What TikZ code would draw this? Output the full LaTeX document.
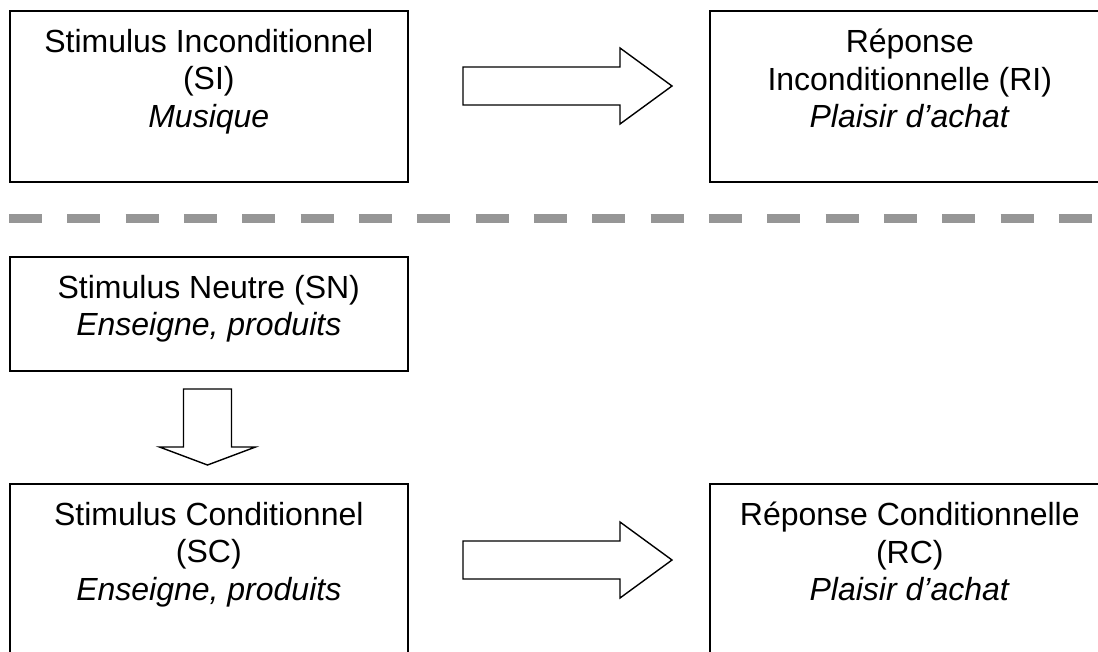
\documentclass[tikz,border=0pt]{standalone}
\usepackage{fontspec}
\setmainfont{Liberation Sans}
\usepackage{xcolor}
\usetikzlibrary{positioning,calc}
\definecolor{rulegray}{HTML}{969696}
\newcommand{\hollowright}[1]{%
  \draw[hollow] (#1) ++(0,-18.5) -- ++(157,0) -- ++(0,-19) -- ++(52,38)
    -- ++(-52,38) -- ++(0,-19) -- ++(-157,0) -- cycle;}
\tikzset{
  box/.style={rectangle, draw=black, fill=white, line width=1.6pt, anchor=north west, inner sep=0pt},
  boxtext/.style={align=center, inner sep=0pt, font=\fontsize{32}{37.5}\selectfont},
  hollow/.style={draw=black, fill=white, line width=1.4pt, line join=miter},
  divider/.style={draw=rulegray, line width=8.5pt, dash pattern=on 33pt off 25.33pt},
}

\begin{document}
\begin{tikzpicture}[x=1pt, y=-1pt]
\useasboundingbox (0,0) rectangle (1098,651);
\clip (0,0) rectangle (1098,651);
% unconditioned pair
\node[box, minimum width=398pt, minimum height=171pt] (si) at (9,10) {};
\node[box, minimum width=400pt, minimum height=171pt] (ri) at (709,10) {};
\node[boxtext, below=19pt of si.north] (sitext) {Stimulus Inconditionnel\\(SI)\\\textit{Musique}};
\node[boxtext, below=19pt of ri.north] (ritext) {Réponse\\Inconditionnelle (RI)\\\textit{Plaisir d’achat}};
\coordinate (arrtop) at (463,85.5);
\hollowright{arrtop}

\draw[divider] (9,218.5) -- (1098,218.5);

% neutral stimulus
\node[box, minimum width=398pt, minimum height=114pt] (sn) at (9,256) {};
\node[boxtext, below=19pt of sn.north] (sntext) {Stimulus Neutre (SN)\\\textit{Enseigne, produits}};
\coordinate (arrdown) at (207.5,389);
\draw[hollow] (arrdown) ++(-24,0) -- ++(48,0) -- ++(0,58) -- ++(24,0) -- ++(-48,18)
  -- ++(-48,-18) -- ++(24,0) -- cycle;

% conditioned pair
\node[box, minimum width=398pt, minimum height=190pt] (sc) at (9,483) {};
\node[box, minimum width=400pt, minimum height=190pt] (rc) at (709,483) {};
\node[boxtext, below=19pt of sc.north] (sctext) {Stimulus Conditionnel\\(SC)\\\textit{Enseigne, produits}};
\node[boxtext, below=19pt of rc.north] (rctext) {Réponse Conditionnelle\\(RC)\\\textit{Plaisir d’achat}};
\coordinate (arrlow) at (463,559.5);
\hollowright{arrlow}
\end{tikzpicture}
\end{document}
